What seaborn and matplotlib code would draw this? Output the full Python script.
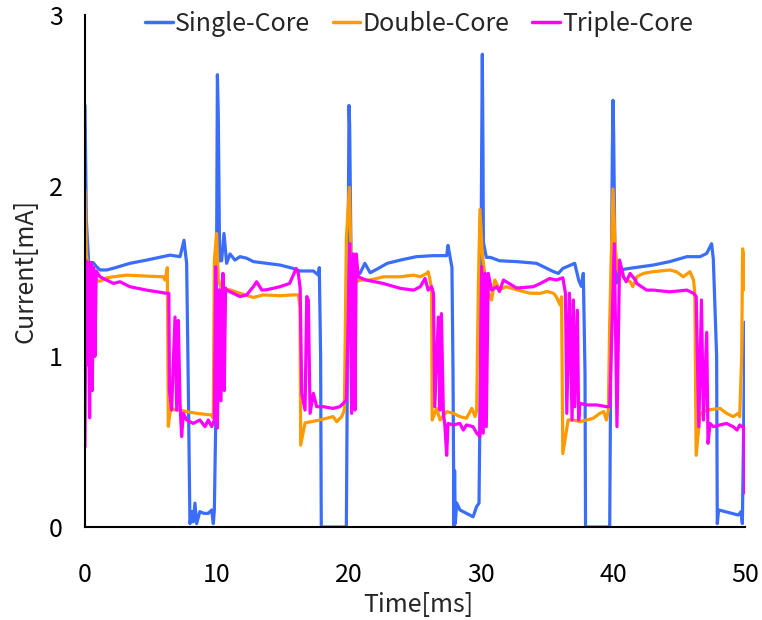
import matplotlib
matplotlib.use('Agg')
import matplotlib.pyplot as plt
import pandas as pd
import seaborn as sns

# Data (time in ms, current in mA)
single_t = [0.0, 0.1, 0.3, 0.6, 0.88, 1.14, 1.64, 2.15, 3.4, 4.67, 6.44, 7.2, 7.5, 7.7,
            7.83, 7.95, 8.1, 8.2, 8.33, 8.46, 8.7, 9.0, 9.34, 9.6, 9.72, 9.8, 9.9, 9.97,
            10.03, 10.1, 10.2, 10.35, 10.53, 10.73, 10.98, 11.36, 11.74, 12.25, 12.75,
            13.76, 14.77, 15.78, 16.29, 17.3, 17.68, 17.75, 17.85, 17.9, 19.8, 19.9,
            20.0, 20.05, 20.15, 20.35, 20.55, 20.83, 21.2, 21.6, 22.1, 22.9, 23.9, 25.1,
            26.4, 27.4, 27.5, 27.8, 27.88, 27.95, 28.0, 28.05, 28.16, 28.4, 28.9, 29.4,
            29.67, 29.85, 29.95, 30.05, 30.1, 30.15, 30.18, 30.4, 30.7, 31.4, 32.7, 34.2,
            35.5, 35.86, 36.2, 37.1, 37.4, 37.6, 37.75, 37.88, 37.92, 39.75, 39.85, 39.95,
            40.0, 40.05, 40.15, 40.3, 40.5, 41.3, 43.05, 44.3, 45.6, 46.6, 47.1, 47.47,
            47.6, 47.85, 47.9, 48.0, 48.5, 49.0, 49.5, 49.7, 49.8, 49.9, 50.0]
single_v = [2.47, 1.80, 1.52, 1.55, 1.525, 1.506, 1.506, 1.516, 1.545, 1.564, 1.593, 1.584,
            1.68, 1.545, 0.8, 0.02, 0.09, 0.03, 0.14, 0.02, 0.09, 0.08, 0.08, 0.10, 0.02,
            0.10, 0.60, 1.60, 2.65, 2.40, 1.56, 1.56, 1.72, 1.545, 1.60, 1.564, 1.584,
            1.575, 1.555, 1.545, 1.535, 1.515, 1.50, 1.50, 1.476, 1.52, 1.0, 0.0, 0.0,
            1.2, 2.47, 2.35, 1.60, 1.43, 1.50, 1.486, 1.545, 1.49, 1.51, 1.545, 1.564,
            1.584, 1.59, 1.59, 1.65, 1.52, 0.9, 0.0, 0.33, 0.02, 0.14, 0.10, 0.08, 0.06,
            0.12, 0.14, 0.9, 2.2, 2.77, 2.2, 1.67, 1.58, 1.58, 1.56, 1.555, 1.545, 1.496,
            1.486, 1.515, 1.545, 1.447, 1.41, 1.486, 0.9, 0.0, 0.0, 1.2, 2.2, 2.50, 2.3,
            1.56, 1.43, 1.506, 1.516, 1.535, 1.555, 1.584, 1.584, 1.603, 1.66, 1.57, 1.0,
            0.02, 0.10, 0.09, 0.08, 0.07, 0.09, 0.02, 0.6, 1.20]

double_t = [0.0, 0.1, 0.3, 0.63, 1.14, 1.64, 2.15, 3.16, 4.67, 5.93, 6.06, 6.24, 6.31, 6.5,
            6.82, 7.2, 7.7, 8.46, 9.6, 9.72, 9.8, 9.97, 10.1, 10.35, 10.98, 11.74, 12.75,
            13.5, 14.77, 15.78, 16.16, 16.29, 16.34, 16.67, 17.8, 18.8, 19.07, 19.45,
            19.65, 19.8, 20.03, 20.15, 20.4, 20.83, 21.6, 22.6, 23.9, 24.9, 25.4, 25.9,
            26.0, 26.14, 26.26, 26.3, 26.64, 26.9, 27.4, 27.9, 28.4, 28.9, 29.3, 29.55,
            29.67, 29.8, 29.92, 30.1, 30.4, 30.8, 31.05, 31.4, 31.9, 32.7, 33.7, 34.5,
            35.0, 35.5, 35.7, 36.0, 36.1, 36.2, 36.6, 37.0, 37.5, 38.0, 38.5, 39.0, 39.3,
            39.5, 39.65, 39.75, 39.9, 40.0, 40.15, 40.3, 40.5, 41.0, 41.3, 41.5, 41.8,
            42.3, 43.05, 44.3, 44.8, 45.33, 45.83, 46.1, 46.2, 46.3, 46.6, 47.1, 48.1,
            48.6, 49.1, 49.5, 49.6, 49.75, 49.82, 49.95, 50.0]
double_v = [1.97, 1.60, 1.47, 1.447, 1.44, 1.46, 1.466, 1.476, 1.47, 1.466, 1.447, 1.52,
            0.59, 0.70, 0.685, 0.685, 0.676, 0.666, 0.656, 0.637, 1.56, 1.72, 1.45, 1.39,
            1.39, 1.369, 1.345, 1.36, 1.355, 1.36, 1.36, 1.29, 0.48, 0.61, 0.627, 0.647,
            0.617, 0.647, 0.685, 1.69, 1.99, 1.60, 1.43, 1.447, 1.447, 1.466, 1.466, 1.476,
            1.466, 1.486, 1.496, 1.447, 1.39, 0.627, 0.695, 0.627, 0.676, 0.666, 0.647,
            0.637, 0.695, 0.647, 0.685, 1.40, 1.86, 1.60, 1.408, 1.33, 1.447, 1.39, 1.408,
            1.39, 1.37, 1.369, 1.38, 1.369, 1.35, 1.30, 1.349, 0.43, 0.627, 0.627, 0.617,
            0.627, 0.637, 0.666, 0.676, 0.627, 0.685, 1.2, 1.66, 1.98, 1.66, 1.525, 1.486,
            1.447, 1.437, 1.408, 1.466, 1.486, 1.496, 1.506, 1.496, 1.466, 1.496, 1.447,
            1.37, 0.42, 0.666, 0.685, 0.695, 0.666, 0.647, 0.666, 0.647, 1.0, 1.63, 1.55,
            1.39]

triple_t = [0.0, 0.08, 0.15, 0.25, 0.35, 0.45, 0.55, 0.65, 0.75, 0.85, 1.14, 2.15, 2.65,
            3.4, 4.67, 6.2, 6.35, 6.4, 6.56, 6.82, 6.95, 7.07, 7.2, 7.32, 7.45, 7.7, 8.2,
            8.7, 9.09, 9.34, 9.6, 9.8, 9.9, 10.03, 10.18, 10.3, 10.45, 10.55, 10.65, 10.73,
            11.24, 11.74, 12.25, 12.75, 13.0, 13.4, 13.76, 14.77, 15.5, 16.0, 16.16, 16.3,
            16.42, 16.67, 16.8, 16.92, 17.05, 17.3, 17.55, 18.05, 18.8, 19.3, 19.57, 19.8,
            20.07, 20.2, 20.33, 20.45, 20.55, 20.7, 21.3, 22.6, 23.9, 24.9, 25.4, 25.76,
            26.0, 26.26, 26.4, 26.5, 26.77, 26.9, 27.0, 27.15, 27.27, 27.4, 27.5, 27.9,
            28.4, 28.66, 28.9, 29.4, 29.67, 29.92, 30.05, 30.17, 30.3, 30.4, 30.55, 30.8,
            31.2, 31.4, 31.7, 32.7, 33.96, 34.5, 35.2, 35.7, 36.2, 36.4, 36.5, 36.7, 36.9,
            37.0, 37.1, 37.3, 37.4, 37.5, 38.0, 38.8, 39.5, 39.75, 40.1, 40.3, 40.5, 40.8,
            41.0, 41.3, 41.7, 41.8, 42.55, 43.05, 44.3, 45.6, 46.1, 46.3, 46.5, 46.7,
            46.85, 47.1, 47.2, 47.35, 47.6, 48.1, 48.6, 49.1, 49.4, 49.6, 49.75, 49.9, 50.0]
triple_v = [0.47, 1.56, 0.95, 1.55, 0.64, 1.55, 0.80, 1.52, 1.00, 1.50, 1.466, 1.427, 1.437,
            1.408, 1.388, 1.369, 1.369, 0.8, 0.685, 1.23, 0.685, 1.21, 0.725, 0.53, 0.666,
            0.627, 0.607, 0.627, 0.588, 0.627, 0.588, 0.627, 1.525, 0.58, 1.39, 0.74, 1.486,
            0.80, 1.40, 1.388, 1.369, 1.35, 1.36, 1.408, 1.437, 1.388, 1.39, 1.408, 1.427,
            1.515, 1.486, 1.40, 0.783, 0.685, 1.35, 1.33, 0.666, 0.783, 0.705, 0.705, 0.695,
            0.705, 0.725, 0.744, 1.66, 0.666, 1.60, 0.685, 1.60, 1.466, 1.447, 1.427, 1.398,
            1.388, 1.408, 1.456, 1.388, 1.408, 1.369, 0.705, 1.23, 0.685, 1.25, 0.666, 0.588,
            0.42, 0.607, 0.598, 0.607, 0.568, 0.598, 0.588, 0.55, 0.53, 1.525, 0.55, 1.486,
            0.588, 1.486, 1.388, 1.408, 1.38, 1.447, 1.40, 1.408, 1.427, 1.456, 1.447, 1.46,
            1.369, 0.666, 1.37, 0.627, 1.33, 0.705, 1.27, 0.627, 0.725, 0.715, 0.715, 0.705,
            0.705, 1.66, 0.588, 1.564, 1.466, 1.437, 1.486, 1.447, 1.427, 1.388, 1.388,
            1.378, 1.388, 1.369, 1.35, 0.588, 1.33, 0.627, 1.14, 0.49, 0.607, 0.588, 0.598,
            0.607, 0.588, 0.568, 0.598, 0.588, 0.59, 0.20]

series_names = ['Single-Core', 'Double-Core', 'Triple-Core']
colors = ['#3A6DFA', '#FF9A00', '#FF00FF']
x_ticks = [0, 10, 20, 30, 40, 50]
y_ticks = [0, 1, 2, 3]

frames = []
for name, t, v in zip(series_names, [single_t, double_t, triple_t],
                      [single_v, double_v, triple_v]):
    frames.append(pd.DataFrame({'Time[ms]': t, 'Current[mA]': v, 'series': name}))
df = pd.concat(frames, ignore_index=True)

sns.set_style('white')
plt.rcParams['font.family'] = ['Noto Sans CJK JP', 'DejaVu Sans']

fig = plt.figure(figsize=(7.62, 6.2), dpi=100)
ax = fig.add_axes([85 / 762, 1 - 527 / 620, 660 / 762, 512 / 620])

sns.lineplot(data=df, x='Time[ms]', y='Current[mA]', hue='series',
             hue_order=series_names, palette=colors, sort=False,
             estimator=None, linewidth=2.3, ax=ax)

ax.set_xlim(0, 50)
ax.set_ylim(0, 3)
ax.set_xticks(x_ticks)
ax.set_yticks(y_ticks)
for side in ['top', 'right']:
    ax.spines[side].set_visible(False)
for side in ['left', 'bottom']:
    ax.spines[side].set_linewidth(1.5)
    ax.spines[side].set_color('black')
ax.tick_params(axis='both', direction='in', length=4.5, width=1.5,
               labelsize=18, colors='black')
ax.tick_params(axis='x', pad=25)
ax.tick_params(axis='y', pad=16)

ax.set_xlabel('Time[ms]', fontsize=18)
ax.set_ylabel('Current[mA]', fontsize=18)
ax.xaxis.set_label_coords(0.505, -0.126)
ax.yaxis.set_label_coords(-0.07, 0.5)

handles, labels = ax.get_legend_handles_labels()
leg = ax.legend(handles, labels, loc='center', bbox_to_anchor=(0.55, 0.962),
                bbox_transform=fig.transFigure, ncol=3, frameon=False,
                fontsize=18, handlelength=1.1, handletextpad=0.1,
                columnspacing=0.9)
for line in leg.get_lines():
    line.set_linewidth(2.5)

fig.savefig('out.png', dpi=100)
